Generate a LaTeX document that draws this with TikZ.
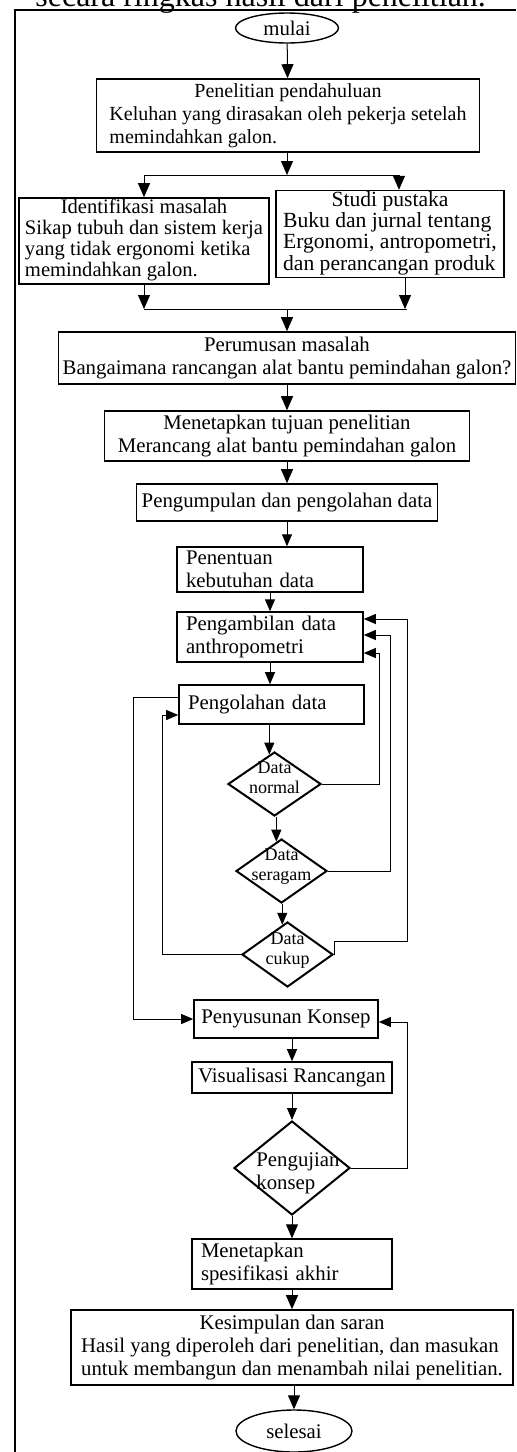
\documentclass[tikz,border=0pt]{standalone}
\usepackage{fontspec}
\setmainfont{Liberation Serif}
\usetikzlibrary{shapes.geometric,arrows.meta}
\newcommand{\isi}{\fontsize{10.4}{11.5}\selectfont}
\newcommand{\isirapat}{\fontsize{10.3}{10.5}\selectfont}
\newcommand{\isikecil}{\fontsize{9}{10}\selectfont}
\newcommand{\judulisi}[2]{\begin{tabular}{@{}l@{}}\multicolumn{1}{@{}c@{}}{#1}\\#2\end{tabular}}
\newcommand{\tengah}[1]{\smash{\makebox[0pt]{\begin{tabular}{@{}c@{}}#1\end{tabular}}}}
\newcommand{\tengahkiri}[1]{\smash{\makebox[0pt]{\kern6pt\raisebox{-5pt}{\begin{tabular}{@{}l@{}}#1\end{tabular}}}}}
\tikzset{
  kotak/.style={rectangle, draw, line width=0.8pt, inner sep=2pt, align=center, font=\isi},
  kotakkiri/.style={kotak, align=left, inner xsep=4.5pt},
  terminal/.style={ellipse, draw, line width=0.7pt, inner sep=0pt, font=\isi},
  keputusan/.style={diamond, draw, line width=1pt, inner sep=0pt, font=\isikecil},
  garis/.style={line width=0.5pt},
  panah/.style={garis, -{Triangle[length=7pt,width=6pt]}},
  panahkecil/.style={garis, -{Triangle[length=6pt,width=5pt]}}
}
\begin{document}
\begin{tikzpicture}[x=0.5pt, y=-0.5pt]
\useasboundingbox (0,0) rectangle (516,1452);
\draw[line width=1pt] (15,1452) -- (15,10) -- (516,10);
\node[anchor=base west, inner sep=0pt, font=\fontsize{16}{18}\selectfont] (kalimat) at (35,6) {secara ringkas hasil dari penelitian.};

\node[terminal, minimum width=51.5pt, minimum height=15pt] (mulai) at (287,28) {mulai};
\node[kotak, inner ysep=1pt, minimum width=191.5pt, minimum height=35.5pt, font=\fontsize{10}{11.5}\selectfont] (pendahuluan) at (288,115.5) {\judulisi{Penelitian pendahuluan}{Keluhan yang dirasakan oleh pekerja setelah\\memindahkan galon.}};
\node[kotak, inner ysep=0.5pt, minimum width=125pt, minimum height=43pt, font=\isirapat] (identifikasi) at (144,241) {\judulisi{Identifikasi masalah}{Sikap tubuh dan sistem kerja\\yang tidak ergonomi ketika\\memindahkan galon.}};
\node[kotak, inner ysep=0.5pt, minimum width=114pt, minimum height=43pt, font=\fontsize{10.8}{10.5}\selectfont] (pustaka) at (390,234) {\judulisi{Studi pustaka}{Buku dan jurnal tentang\\Ergonomi, antropometri,\\dan perancangan produk}};
\node[kotak, minimum width=228pt, minimum height=26pt] (perumusan) at (287,358) {Perumusan masalah\\Bangaimana rancangan alat bantu pemindahan galon?};
\node[kotak, minimum width=182.5pt, minimum height=24pt] (tujuan) at (287,436) {Menetapkan tujuan penelitian\\Merancang alat bantu pemindahan galon};
\node[kotak, minimum width=150.5pt, minimum height=18.5pt] (pengumpulan) at (287,502.5) {Pengumpulan dan pengolahan data};
\node[kotakkiri, text width=84pt, minimum height=19.5pt] (penentuan) at (270,569.5) {Penentuan\\kebutuhan data};
\node[kotakkiri, text width=84pt, minimum height=24pt] (pengambilan) at (270,637) {Pengambilan data\\anthropometri};
\node[kotakkiri, text width=83.5pt, minimum height=19.5pt] (pengolahan) at (271.5,704.5) {Pengolahan data};
\node[keputusan, minimum width=46.5pt, minimum height=32pt] (normal) at (274.5,784) {\tengah{Data\\normal}};
\node[keputusan, minimum width=45.5pt, minimum height=32pt] (seragam) at (281.5,871) {\tengah{Data\\seragam}};
\node[keputusan, minimum width=45.5pt, minimum height=32.5pt] (cukup) at (287.5,954.5) {\tengah{Data\\cukup}};
\node[kotak, minimum width=92pt, minimum height=19pt] (penyusunan) at (286,1019) {Penyusunan Konsep};
\node[kotak, minimum width=100pt, minimum height=15.5pt] (visualisasi) at (292,1077.5) {Visualisasi Rancangan};
\node[keputusan, minimum width=58pt, minimum height=47pt, font=\isi] (pengujian) at (292,1168) {\tengahkiri{Pengujian\\konsep}};
\node[kotakkiri, text width=91pt, minimum height=22pt] (spesifikasi) at (292,1264) {Menetapkan\\spesifikasi akhir};
\node[kotak, inner ysep=1pt, minimum width=221pt, minimum height=37.5pt] (kesimpulan) at (292,1347.5) {\judulisi{Kesimpulan dan saran}{Hasil yang diperoleh dari penelitian, dan masukan\\untuk membangun dan menambah nilai penelitian.}};
\node[terminal, minimum width=58pt, minimum height=21pt] (selesai) at (294,1431) {selesai};

\coordinate (cabang) at (287,175);
\coordinate (gabung) at (287,309);
\coordinate (rel1) at (379,653);
\coordinate (rel2) at (390,635);
\coordinate (rel3) at (407,619);
\coordinate (balik) at (162,715);
\coordinate (lanjut) at (133,1019);
\coordinate (ulang) at (407,1022);

\draw[panah] (mulai) -- (pendahuluan);
\draw[panah] (pendahuluan.south -| cabang) -- (cabang);
\draw[panah] (cabang) -| (identifikasi.north);
\draw[panah] (cabang) -| ([xshift=4.5pt]pustaka.north);
\draw[panah] (identifikasi.south) -- (identifikasi.south |- gabung);
\draw[panah] ([xshift=7.5pt]pustaka.south) -- ([xshift=7.5pt]pustaka.south |- gabung);
\draw[garis] (identifikasi.south |- gabung) -- ([xshift=8.5pt]pustaka.south |- gabung);
\draw[panah] (gabung) -- (perumusan.north);
\draw[panah] (perumusan) -- (tujuan);
\draw[panah] (tujuan) -- (pengumpulan);
\draw[panahkecil] (pengumpulan.south) -- (pengumpulan.south |- penentuan.north);
\draw[panahkecil] (penentuan) -- (pengambilan);
\draw[panahkecil] (pengambilan.south) -- (pengambilan.south |- pengolahan.north);
\draw[panahkecil] (normal.100 |- pengolahan.south) -- (normal.100);
\draw[panahkecil] (seragam.100 |- normal.south) -- (seragam.100);
\draw[panahkecil] (cukup.100 |- seragam.south) -- (cukup.100);
\draw[panahkecil] (normal.east) -| (rel1) -- (rel1 -| pengambilan.east);
\draw[panahkecil] (seragam.east) -| (rel2) -- (rel2 -| pengambilan.east);
\draw[panahkecil] (cukup.east) -- ([yshift=6.5pt]cukup.east) -| (rel3) -- (rel3 -| pengambilan.east);
\draw[panahkecil] (cukup.west) -| (balik) -- (balik -| pengolahan.west);
\draw[panahkecil] ([yshift=3.5pt]pengolahan.west) -| (lanjut) -- (penyusunan.west);
\draw[panahkecil] (penyusunan.south -| visualisasi.north) -- (visualisasi.north);
\draw[panahkecil] (visualisasi) -- (pengujian);
\draw[panahkecil] (pengujian.east) -| (ulang) -- (ulang -| penyusunan.east);
\draw[panah] (pengujian) -- (spesifikasi);
\draw[panah] (spesifikasi) -- (kesimpulan);
\draw[panah] (kesimpulan.south -| selesai.north) -- (selesai.north);
\end{tikzpicture}
\end{document}
